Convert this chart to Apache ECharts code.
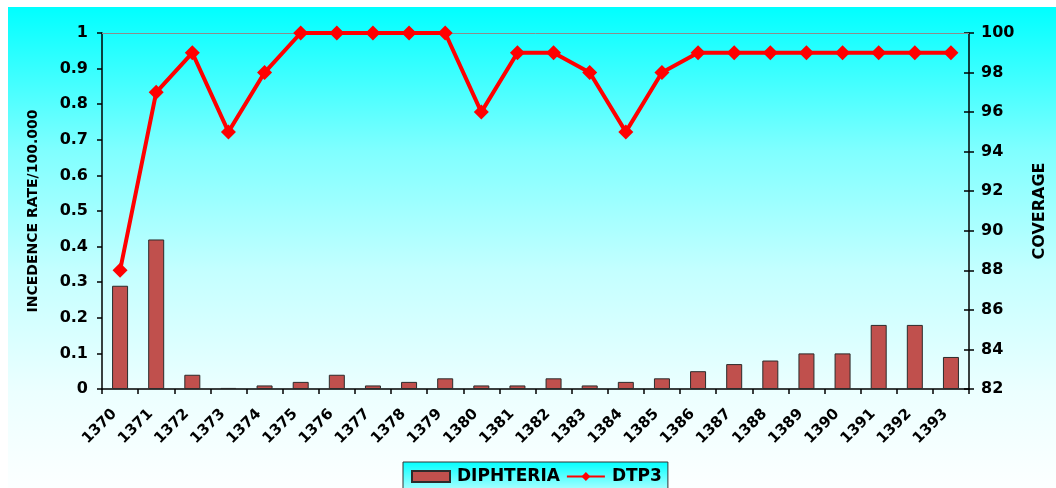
<!DOCTYPE html>
<html>
<head>
<meta charset="utf-8">
<title>DIPHTERIA / DTP3</title>
<script src="https://cdn.jsdelivr.net/npm/echarts@6/dist/echarts.min.js"></script>
<style>
  html, body { margin: 0; padding: 0; background: #ffffff; }
  #chart { width: 1056px; height: 488px; }
</style>
</head>
<body>
<div id="chart"></div>
<script>
// Years (Iranian calendar)
const years = ['1370','1371','1372','1373','1374','1375','1376','1377','1378','1379','1380','1381',
               '1382','1383','1384','1385','1386','1387','1388','1389','1390','1391','1392','1393'];
// Diphtheria incidence rate per 100,000
const diphtheria = [0.29, 0.42, 0.04, 0.003, 0.01, 0.02, 0.04, 0.01, 0.02, 0.03, 0.01, 0.01,
                    0.03, 0.01, 0.02, 0.03, 0.05, 0.07, 0.08, 0.10, 0.10, 0.18, 0.18, 0.09];
// DTP3 vaccination coverage (%)
const dtp3 = [88, 97, 99, 95, 98, 100, 100, 100, 100, 100, 96, 99,
              99, 98, 95, 98, 99, 99, 99, 99, 99, 99, 99, 99];

const FONT = 'DejaVu Sans';
const chart = echarts.init(document.getElementById('chart'));

const tickLabel = { fontFamily: FONT, fontWeight: 'bold', fontSize: 16, color: '#000' };

chart.setOption({
  animation: false,
  graphic: [{
    type: 'rect',
    z: -10,
    shape: { x: 8, y: 7, width: 1048, height: 481 },
    style: {
      fill: new echarts.graphic.LinearGradient(0, 0, 0, 1, [
        { offset: 0, color: '#00ffff' },
        { offset: 0.3, color: '#80ffff' },
        { offset: 0.55, color: '#c4ffff' },
        { offset: 0.8, color: '#ecffff' },
        { offset: 1, color: '#fcffff' }
      ])
    }
  }],
  grid: { left: 102, right: 83, top: 33, bottom: 99, containLabel: false },
  legend: {
    data: [{ name: 'DIPHTERIA', icon: 'rect' }, { name: 'DTP3' }],
    left: 403,
    top: 462,
    itemGap: 6,
    itemWidth: 38,
    itemHeight: 11,
    padding: [6, 6, 12, 8],
    borderColor: '#333',
    borderWidth: 1,
    backgroundColor: new echarts.graphic.LinearGradient(0, 0, 0, 1, [
      { offset: 0, color: '#00ffff' },
      { offset: 1, color: '#d8ffff' }
    ]),
    textStyle: { fontFamily: FONT, fontWeight: 'bold', fontSize: 17, color: '#000', padding: [0, 0, 0, 2] }
  },
  xAxis: {
    type: 'category',
    data: years,
    boundaryGap: true,
    axisLine: { lineStyle: { color: '#000', width: 1.5 } },
    axisTick: { show: true, alignWithLabel: false, length: 5, lineStyle: { color: '#000', width: 1.5 } },
    axisLabel: Object.assign({}, tickLabel, {
      fontSize: 15, rotate: 45, margin: 17, interval: 0, padding: [0, 8, 0, 0]
    }),
    splitLine: { show: false }
  },
  yAxis: [{
    type: 'value',
    min: 0, max: 1, interval: 0.1,
    position: 'left',
    name: 'INCEDENCE RATE/100.000',
    nameLocation: 'middle',
    nameGap: 62,
    nameTextStyle: { fontFamily: FONT, fontWeight: 'bold', fontSize: 14, color: '#000' },
    axisLine: { show: true, lineStyle: { color: '#000', width: 1.5 } },
    axisTick: { show: true, length: 5, lineStyle: { color: '#000', width: 1.5 } },
    axisLabel: Object.assign({}, tickLabel, {
      margin: 14,
      formatter: v => (Math.round(v * 10) / 10).toString()
    }),
    splitLine: { show: false }
  }, {
    type: 'value',
    min: 82, max: 100, interval: 2,
    position: 'right',
    name: 'COVERAGE',
    nameLocation: 'middle',
    nameGap: 63,
    nameTextStyle: { fontFamily: FONT, fontWeight: 'bold', fontSize: 16, color: '#000' },
    axisLine: { show: true, lineStyle: { color: '#000', width: 1.5 } },
    axisTick: { show: true, length: 5, lineStyle: { color: '#000', width: 1.5 } },
    axisLabel: Object.assign({}, tickLabel, { margin: 12 }),
    splitLine: { show: false }
  }, {
    // inner half of the right-hand tick marks
    type: 'value',
    min: 82, max: 100, interval: 2,
    position: 'right',
    axisLine: { show: false },
    axisTick: { show: true, inside: true, length: 5, lineStyle: { color: '#000', width: 1.5 } },
    axisLabel: { show: false },
    splitLine: { show: false }
  }],
  series: [{
    name: 'DIPHTERIA',
    type: 'bar',
    yAxisIndex: 0,
    data: diphtheria,
    barWidth: 16,
    itemStyle: { color: '#c0504d', borderColor: '#2b2b2b', borderWidth: 1 },
    markLine: {
      silent: true,
      symbol: 'none',
      label: { show: false },
      lineStyle: { color: '#8c8c8c', width: 1, type: 'solid' },
      data: [{ yAxis: 1 }]
    }
  }, {
    name: 'DTP3',
    type: 'line',
    yAxisIndex: 1,
    data: dtp3,
    symbol: 'diamond',
    symbolSize: 15,
    lineStyle: { color: '#ff0000', width: 4 },
    itemStyle: { color: '#ff0000' },
    z: 5
  }]
});
</script>
</body>
</html>
